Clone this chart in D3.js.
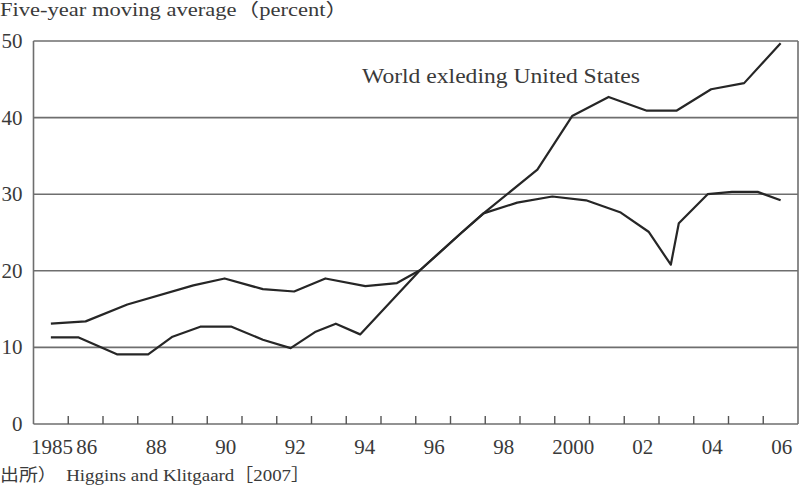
<!DOCTYPE html>
<html>
<head>
<meta charset="utf-8">
<script src="https://cdn.jsdelivr.net/npm/d3@7"></script>
<style>
  body { margin: 0; background: #fff; }
  svg { display: block; }
  text { font-family: "Liberation Serif", "Noto Sans CJK JP", serif; fill: #3a3a3a; }
</style>
</head>
<body>
<div id="chart"></div>
<script>
var W = 808, H = 486,
    margin = {top: 41, right: 10, bottom: 62, left: 33.5},
    width = W - margin.left - margin.right,
    height = H - margin.top - margin.bottom;

// x tick labels
var tickYears = [1985, 1986, 1988, 1990, 1992, 1994, 1996, 1998, 2000, 2002, 2004, 2006],
    tickLabels = ["1985", "86", "88", "90", "92", "94", "96", "98", "2000", "02", "04", "06"],
    yTicks = [0, 10, 20, 30, 40, 50];

// World excluding United States
var worldYears = [1985, 1985.8, 1986.9, 1987.8, 1988.5, 1989.3, 1990.2, 1991.1, 1991.9, 1992.6, 1993.2, 1993.9,
                  1995.63, 1996.8, 1997.45, 1999, 2000, 2001.05, 2002.15, 2003, 2004, 2004.95, 2006],
    worldValues = [11.3, 11.3, 9.1, 9.1, 11.4, 12.7, 12.7, 11.0, 9.9, 12.0, 13.1, 11.7,
                   20.1, 24.9, 27.5, 33.2, 40.2, 42.7, 40.9, 40.9, 43.7, 44.5, 49.7];

// United States
var usYears = [1985, 1986, 1987.2, 1989.1, 1990, 1991.1, 1992, 1992.9, 1994.05, 1994.96,
               1995.63, 1996.8, 1997.45, 1998.42, 1999.43, 2000.4, 2001.4, 2002.2, 2002.84, 2003.07,
               2003.9, 2004.6, 2005.34, 2006],
    usValues = [13.1, 13.4, 15.6, 18.1, 19.0, 17.6, 17.3, 19.0, 18.0, 18.4,
                20.1, 24.9, 27.5, 28.9, 29.7, 29.2, 27.6, 25.1, 20.8, 26.2,
                30.0, 30.3, 30.3, 29.2];

var root = d3.select("#chart").append("svg")
    .attr("width", W)
    .attr("height", H);

var svg = root.append("g")
    .attr("transform", "translate(" + margin.left + "," + margin.top + ")");

var x = d3.scaleLinear().domain([1984.5, 2006.5]).range([0, width]);
var y = d3.scaleLinear().domain([0, 50]).range([height, 0]);

// gridlines
svg.append("g")
    .selectAll("line")
    .data(yTicks)
    .enter().append("line")
    .attr("x1", 0)
    .attr("x2", width)
    .attr("y1", d => y(d))
    .attr("y2", d => y(d))
    .attr("stroke", "#6e6e6e")
    .attr("stroke-width", 1.6);

// side borders
svg.append("line").attr("x1", 0).attr("x2", 0).attr("y1", 0).attr("y2", height)
    .attr("stroke", "#6e6e6e").attr("stroke-width", 1.6);
svg.append("line").attr("x1", width).attr("x2", width).attr("y1", 0).attr("y2", height)
    .attr("stroke", "#6e6e6e").attr("stroke-width", 1.6);

// x ticks between years, pointing up
var bounds = d3.range(1985.5, 2006, 1);
svg.append("g")
    .selectAll("line")
    .data(bounds)
    .enter().append("line")
    .attr("x1", d => x(d))
    .attr("x2", d => x(d))
    .attr("y1", height)
    .attr("y2", height - 8)
    .attr("stroke", "#555")
    .attr("stroke-width", 1.4);

// x labels
svg.append("g")
    .selectAll("text")
    .data(tickYears)
    .enter().append("text")
    .attr("x", d => x(d) + 1)
    .attr("y", height + 30)
    .attr("text-anchor", "middle")
    .style("font-size", "21px")
    .text((d, i) => tickLabels[i]);

// y labels
svg.append("g")
    .selectAll("text")
    .data(yTicks)
    .enter().append("text")
    .attr("x", -11)
    .attr("y", d => y(d) + 7)
    .attr("text-anchor", "end")
    .style("font-size", "21px")
    .text(d => d);

var line = d3.line()
    .x(d => x(d[0]))
    .y(d => y(d[1]));

var series = [d3.zip(usYears, usValues), d3.zip(worldYears, worldValues)];

svg.selectAll("path.series")
    .data(series)
    .enter().append("path")
    .attr("class", "series")
    .attr("d", line)
    .attr("fill", "none")
    .attr("stroke", "#262626")
    .attr("stroke-width", 2.2)
    .attr("stroke-linejoin", "round");

svg.append("text")
    .attr("x", 362 - margin.left)
    .attr("y", 83 - margin.top)
    .attr("textLength", 278)
    .attr("lengthAdjust", "spacingAndGlyphs")
    .style("font-size", "20px")
    .text("World exleding United States");

// title and source
root.append("text")
    .attr("x", 0)
    .attr("y", 16)
    .attr("textLength", 348)
    .attr("lengthAdjust", "spacingAndGlyphs")
    .style("font-size", "18px")
    .text("Five-year moving average（percent）");

root.append("text")
    .attr("x", 0)
    .attr("y", 481)
    .attr("textLength", 310)
    .attr("lengthAdjust", "spacingAndGlyphs")
    .style("font-size", "17px")
    .text("出所）　Higgins and Klitgaard［2007］");
</script>
</body>
</html>
